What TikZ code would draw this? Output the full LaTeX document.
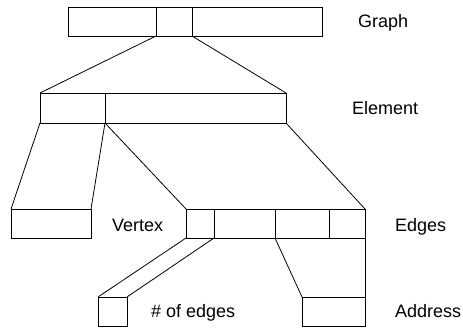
\documentclass[tikz,border=0pt]{standalone}
\usepackage{fontspec}
\setmainfont{Liberation Sans}
\begin{document}
\begin{tikzpicture}[x=1pt,y=-1pt,
  cell/.style={draw, line width=0.8pt, inner sep=0pt, outer sep=0pt, anchor=north west, minimum height=29pt},
  conn/.style={line width=0.8pt},
  lbl/.style={anchor=base west, inner sep=0pt, font=\fontsize{18}{21}\selectfont}]
\useasboundingbox (0,0) rectangle (463,328);
% Graph
\node[cell, minimum width=88pt] (g1) at (68,7) {};
\node[cell, minimum width=36pt] (g2) at (156,7) {};
\node[cell, minimum width=130pt] (g3) at (192,7) {};
% Element
\node[cell, minimum width=65pt, minimum height=30pt] (e1) at (40,93) {};
\node[cell, minimum width=181pt, minimum height=30pt] (e2) at (105,93) {};
% Vertex
\node[cell, minimum width=80pt] (v) at (11,209) {};
% Edges
\node[cell, minimum width=28pt] (d1) at (186,209) {};
\node[cell, minimum width=61pt] (d2) at (214,209) {};
\node[cell, minimum width=54pt] (d3) at (275,209) {};
\node[cell, minimum width=36pt] (d4) at (329,209) {};
% # of edges
\node[cell, minimum width=29pt] (n) at (98,297) {};
% Address
\node[cell, minimum width=63pt] (a) at (302,297) {};
% connectors
\draw[conn] (g2.south west) -- (e1.north west);
\draw[conn] (g2.south east) -- (e2.north east);
\draw[conn] (e1.south west) -- (v.north west);
\draw[conn] (e1.south east) -- (v.north east);
\draw[conn] (e1.south east) -- (d1.north west);
\draw[conn] (e2.south east) -- (d4.north east);
\draw[conn] (d1.south west) -- (n.north west);
\draw[conn] (d1.south east) -- (n.north east);
\draw[conn] (d3.south west) -- (a.north west);
\draw[conn] (d4.south east) -- (a.north east);
% labels
\node[lbl] (lg) at (358,28) {Graph};
\node[lbl] (le) at (352,115) {Element};
\node[lbl] (lv) at (112,232) {Vertex};
\node[lbl] (ld) at (395,232) {Edges};
\node[lbl] (ln) at (151,318) {\# of edges};
\node[lbl] (la) at (395,318) {Address};
\end{tikzpicture}
\end{document}
